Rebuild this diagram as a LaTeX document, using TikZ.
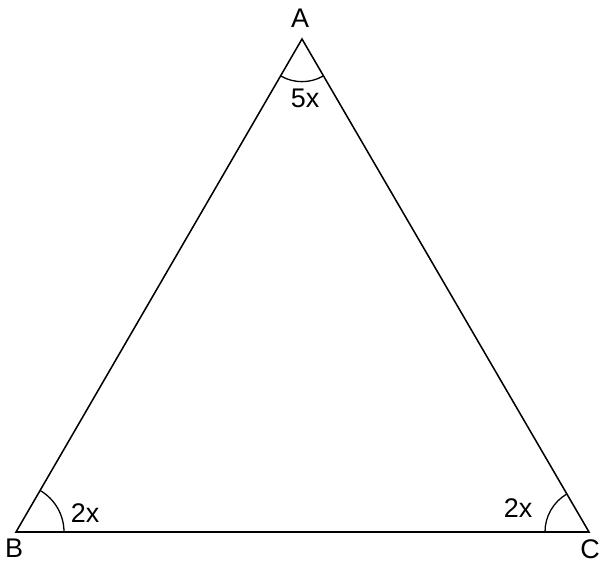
\documentclass[tikz,border=0pt]{standalone}
\usepackage{fontspec}
\setmainfont{Liberation Sans}
\usepackage{tikz}
\usetikzlibrary{angles, positioning}

\begin{document}
\begin{tikzpicture}[x=0.03cm,y=0.03cm,line join=miter,
        side/.style={line width=1.3pt},
        lbl/.style={font=\fontsize{23}{26}\selectfont, inner sep=0pt}]
        \useasboundingbox (0,0) rectangle (612,570);
        \coordinate (A) at (302,531);
        \coordinate (B) at (16,38);
        \coordinate (C) at (589,38);
        \draw[side] (A) -- (B) -- (C) -- cycle;
        % angle marks
        \pic[draw, line width=1.1pt, angle radius=1.28cm] {angle = B--A--C};
        \pic[draw, line width=1.1pt, angle radius=1.44cm] {angle = C--B--A};
        \pic[draw, line width=1.1pt, angle radius=1.32cm] {angle = A--C--B};
        \node[lbl] (lA) at (300,552) {A};
        \node[lbl] (lB) at (14,22) {B};
        \node[lbl] (lC) at (590,21) {C};
        \node[lbl] (aA) at (305,472) {5x};
        \node[lbl] (aB) at (85,57) {2x};
        \node[lbl] (aC) at (518,62) {2x};
      \end{tikzpicture}
\end{document}
